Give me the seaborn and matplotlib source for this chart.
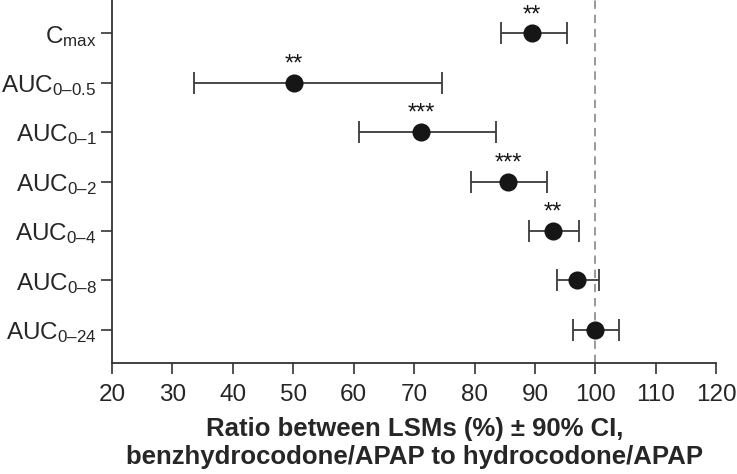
import numpy as np
import matplotlib
matplotlib.use('Agg')
import matplotlib.pyplot as plt
import seaborn as sns

# Values
params = ['C$_{\\mathrm{max}}$', 'AUC$_{\\mathrm{0–0.5}}$', 'AUC$_{\\mathrm{0–1}}$', 'AUC$_{\\mathrm{0–2}}$',
          'AUC$_{\\mathrm{0–4}}$', 'AUC$_{\\mathrm{0–8}}$', 'AUC$_{\\mathrm{0–24}}$']
ratio = [89.5, 50.1, 71.2, 85.5, 93.0, 96.9, 99.9]
ci_low = [84.4, 33.6, 60.8, 79.4, 89.0, 93.6, 96.3]
ci_high = [95.3, 74.6, 83.5, 91.9, 97.2, 100.5, 103.9]
stars = ['**', '**', '***', '***', '**', '', '']
xticks = [20, 30, 40, 50, 60, 70, 80, 90, 100, 110, 120]

sns.set_style('ticks')
plt.rcParams['font.family'] = ['Liberation Sans', 'DejaVu Sans']
plt.rcParams['mathtext.fontset'] = 'custom'
plt.rcParams['mathtext.rm'] = 'Liberation Sans'
plt.rcParams['mathtext.it'] = 'Liberation Sans:italic'
plt.rcParams['mathtext.bf'] = 'Liberation Sans:bold'

fig = plt.figure(figsize=(7.37, 4.74), dpi=100)
ax = fig.add_axes([0.152, 0.234, 0.820, 0.766])

ratio = np.array(ratio)
lo = np.array(ci_low)
hi = np.array(ci_high)
pos = np.arange(len(params))

ax.errorbar(ratio, pos, xerr=[ratio - lo, hi - ratio], fmt='none', ecolor='#3a3a3a',
            elinewidth=1.3, capsize=8, capthick=1.3, zorder=2)
sns.pointplot(x=ratio, y=params, orient='h', order=params, errorbar=None, linestyle='none',
              color='#161616', markers='o', markersize=11, ax=ax, zorder=3)

for x, y, s in zip(ratio, pos, stars):
    if s:
        ax.annotate(s, (x, y), xytext=(0, 13), textcoords='offset points',
                    ha='center', va='center', fontsize=17, color='#161616')

ax.axvline(100, color='#888888', lw=1.2, ls=(0, (5, 3.5)), zorder=1)

ax.set_xlim(20, 120)
ax.set_ylim(6.67, -0.67)
ax.set_xticks(xticks)
ax.tick_params(axis='x', labelsize=17.5, length=8, width=1.2, color='#333333', pad=7)
ax.tick_params(axis='y', labelsize=17.5, length=8, width=1.2, color='#333333', pad=3)
for side in ['top', 'right']:
    ax.spines[side].set_visible(False)
for side in ['left', 'bottom']:
    ax.spines[side].set_color('#333333')
    ax.spines[side].set_linewidth(1.3)

ax.set_ylabel('')
ax.set_xlabel('Ratio between LSMs (%) ± 90% CI,\nbenzhydrocodone/APAP to hydrocodone/APAP',
              fontsize=18.5, fontweight='bold', linespacing=1.2, labelpad=8)

plt.savefig('out.png', dpi=100)
